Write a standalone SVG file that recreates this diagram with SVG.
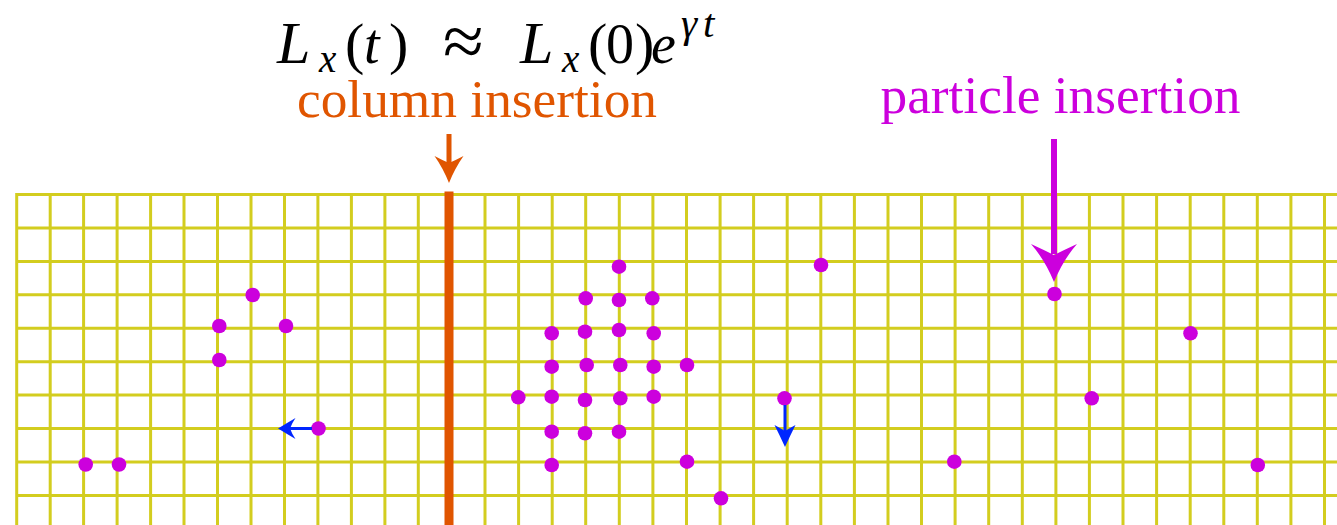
<svg xmlns="http://www.w3.org/2000/svg" width="1337" height="525" viewBox="0 0 1337 525">
<style>
.grid{fill:none;stroke:#d3cd1f;stroke-width:3;stroke-linejoin:miter}
.dot{fill:#cc00dd}
.mag{fill:#cc00dd}
.org{fill:#e05500}
.blu{fill:#0026ff}
.bline{stroke:#0026ff;stroke-width:3;fill:none}
.f{font-family:"Liberation Serif","Times New Roman",serif;fill:#000}
.it{font-style:italic}
.lbl{font-family:"Liberation Serif","Times New Roman",serif;font-size:53px}
</style>
<rect width="1337" height="525" fill="#ffffff"/>
<g id="grid">
<path class="grid" d="M16.7 525V194.5H1337M16.7 227.9H1337M16.7 261.4H1337M16.7 294.8H1337M16.7 328.2H1337M16.7 361.7H1337M16.7 395.1H1337M16.7 428.5H1337M16.7 461.9H1337M16.7 495.4H1337
M50.2 194.5V525M83.6 194.5V525M117.1 194.5V525M150.6 194.5V525M184 194.5V525M217.5 194.5V525M251 194.5V525M284.5 194.5V525M317.9 194.5V525M351.4 194.5V525M384.9 194.5V525M418.3 194.5V525
M485 194.5V525M518.6 194.5V525M552.2 194.5V525M585.7 194.5V525M619.3 194.5V525M652.9 194.5V525M686.5 194.5V525M720.1 194.5V525M753.6 194.5V525M787.2 194.5V525M820.8 194.5V525M854.4 194.5V525M888 194.5V525M921.5 194.5V525M955.1 194.5V525M988.7 194.5V525M1022.3 194.5V525M1055.9 194.5V525M1089.4 194.5V525M1123 194.5V525M1156.6 194.5V525M1190.2 194.5V525M1223.8 194.5V525M1257.3 194.5V525M1290.9 194.5V525M1324.5 194.5V525"/>
</g>
<g id="inserted-column">
<rect class="org" x="444.5" y="191.5" width="9" height="333.5"/>
</g>
<g id="formula">
<text class="f"><tspan class="it" x="277" y="63.3" font-size="60">L</tspan><tspan class="it" x="319" y="71.7" font-size="39">x</tspan><tspan x="345" y="63.3" font-size="58">(</tspan><tspan class="it" x="364" y="63.3" font-size="56">t</tspan><tspan x="389" y="63.3" font-size="58">)</tspan><tspan x="443" y="66" font-size="74">≈</tspan><tspan class="it" x="520" y="63.3" font-size="60">L</tspan><tspan class="it" x="562" y="71.7" font-size="39">x</tspan><tspan x="588" y="63.3" font-size="58">(</tspan><tspan x="606" y="63.3" font-size="56">0</tspan><tspan x="635" y="63.3" font-size="58">)</tspan><tspan class="it" x="651" y="63.3" font-size="56">e</tspan><tspan class="it" x="681" y="37" font-size="41">γ</tspan><tspan class="it" x="703" y="37" font-size="41">t</tspan></text>
</g>
<g id="label-column">
<text class="lbl" x="297" y="116.7" fill="#e05500" textLength="360" lengthAdjust="spacingAndGlyphs">column insertion</text>
</g>
<g id="label-particle">
<text class="lbl" x="880.5" y="113.3" fill="#cc00dd" textLength="360" lengthAdjust="spacingAndGlyphs">particle insertion</text>
</g>
<g id="particles">
<circle class="dot" cx="252.7" cy="295" r="7.3"/>
<circle class="dot" cx="219.3" cy="326" r="7.3"/>
<circle class="dot" cx="286" cy="326" r="7.3"/>
<circle class="dot" cx="219.3" cy="360" r="7.3"/>
<circle class="dot" cx="318.5" cy="428.5" r="7.3"/>
<circle class="dot" cx="85.7" cy="464.5" r="7.3"/>
<circle class="dot" cx="119" cy="464.5" r="7.3"/>
<circle class="dot" cx="619" cy="266.7" r="7.3"/>
<circle class="dot" cx="585.7" cy="298.3" r="7.3"/>
<circle class="dot" cx="619" cy="300" r="7.3"/>
<circle class="dot" cx="652.3" cy="298.3" r="7.3"/>
<circle class="dot" cx="551.7" cy="333.3" r="7.3"/>
<circle class="dot" cx="585" cy="331.7" r="7.3"/>
<circle class="dot" cx="619" cy="330" r="7.3"/>
<circle class="dot" cx="653.7" cy="333.3" r="7.3"/>
<circle class="dot" cx="551.7" cy="366.7" r="7.3"/>
<circle class="dot" cx="586.7" cy="365" r="7.3"/>
<circle class="dot" cx="620.3" cy="365" r="7.3"/>
<circle class="dot" cx="653.7" cy="366.7" r="7.3"/>
<circle class="dot" cx="687" cy="365" r="7.3"/>
<circle class="dot" cx="518.3" cy="397.3" r="7.3"/>
<circle class="dot" cx="551.7" cy="396.7" r="7.3"/>
<circle class="dot" cx="585" cy="400" r="7.3"/>
<circle class="dot" cx="620.3" cy="398.3" r="7.3"/>
<circle class="dot" cx="653.7" cy="396.7" r="7.3"/>
<circle class="dot" cx="551.7" cy="431.7" r="7.3"/>
<circle class="dot" cx="585" cy="433.3" r="7.3"/>
<circle class="dot" cx="619" cy="431.7" r="7.3"/>
<circle class="dot" cx="551.7" cy="465" r="7.3"/>
<circle class="dot" cx="687" cy="461.7" r="7.3"/>
<circle class="dot" cx="721" cy="498.3" r="7.3"/>
<circle class="dot" cx="821" cy="265" r="7.3"/>
<circle class="dot" cx="1054.5" cy="294" r="7.3"/>
<circle class="dot" cx="1190.5" cy="333.3" r="7.3"/>
<circle class="dot" cx="784.5" cy="398.3" r="7.3"/>
<circle class="dot" cx="1091.7" cy="398.3" r="7.3"/>
<circle class="dot" cx="954.3" cy="461.7" r="7.3"/>
<circle class="dot" cx="1257.8" cy="465" r="7.3"/>
</g>
<g id="connectors">
<rect class="org" x="446.5" y="134" width="5" height="30"/>
<path class="org" d="M449 183Q443 168 434.5 156Q443 160.5 449 163Q455 160.5 463.5 156Q455 168 449 183Z"/>
<rect class="mag" x="1051" y="139" width="6" height="115"/>
<path class="mag" d="M1054 282Q1045 260 1031 244Q1044 250 1054 255Q1064 250 1077 244Q1063 260 1054 282Z"/>
<path class="bline" d="M312 428.5H289"/>
<path class="blu" d="M278 428.5Q287 423 295.5 418Q292 423 290 428.5Q292 434 295.5 439Q287 434 278 428.5Z"/>
<path class="bline" d="M785 405V432"/>
<path class="blu" d="M785 447Q780 436 774.5 425Q780 428 785 431Q790 428 795.5 425Q790 436 785 447Z"/>
</g>
</svg>
